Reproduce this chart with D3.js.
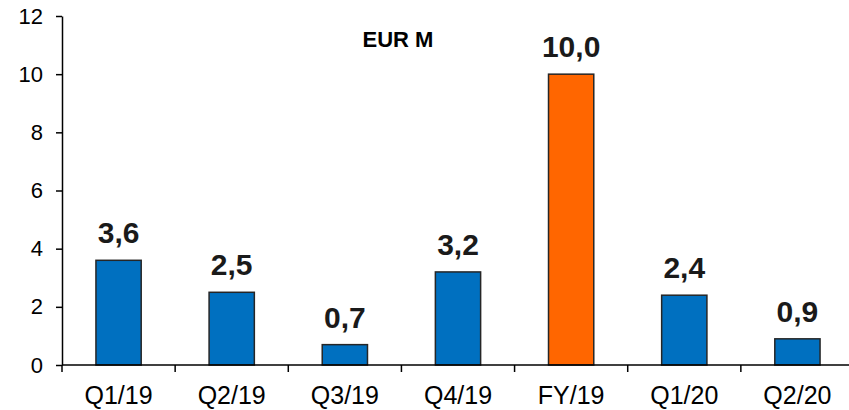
<!DOCTYPE html>
<html>
<head>
<meta charset="utf-8">
<script src="https://cdn.jsdelivr.net/npm/d3@7"></script>
<style>
  body { margin: 0; background: #fff; }
  text { font-family: "Liberation Sans", Arial, sans-serif; }
</style>
</head>
<body>
<div id="chart"></div>
<script>
// data
var categories = ["Q1/19", "Q2/19", "Q3/19", "Q4/19", "FY/19", "Q1/20", "Q2/20"];
var values = [3.6, 2.5, 0.7, 3.2, 10.0, 2.4, 0.9];
var valueLabels = ["3,6", "2,5", "0,7", "3,2", "10,0", "2,4", "0,9"];
var yTicks = [0, 2, 4, 6, 8, 10, 12];
var unitLabel = "EUR M";

var data = categories.map(function (c, i) {
    return {cat: c, value: values[i], label: valueLabels[i]};
});

var width = 849, height = 410;

var svg = d3.select("#chart")
    .append("svg")
    .attr("width", width)
    .attr("height", height);

// category slots run past the right edge in the original
var x = d3.scaleBand()
    .domain(categories)
    .range([62, 854])
    .padding(0);

var y = d3.scaleLinear()
    .domain([0, 12])
    .range([365, 16]);

var barW = x.bandwidth() * 0.4;

// Y axis
var yAxis = svg.append("g")
    .attr("transform", "translate(62,0)")
    .call(d3.axisLeft(y).tickValues(yTicks).tickSize(6).tickPadding(13).tickSizeOuter(0));
yAxis.select(".domain").attr("stroke", "#000").attr("stroke-width", 1.5);
yAxis.selectAll(".tick line").attr("stroke", "#000").attr("stroke-width", 1.5);
yAxis.selectAll("text")
    .style("font-size", "22px")
    .attr("fill", "#000");

// bars
svg.selectAll("rect.bar")
    .data(data)
    .enter()
    .append("rect")
    .attr("class", "bar")
    .attr("x", function (d) { return x(d.cat) + (x.bandwidth() - barW) / 2; })
    .attr("y", function (d) { return y(d.value); })
    .attr("width", barW)
    .attr("height", function (d) { return y(0) - y(d.value); })
    .attr("fill", function (d) { return d.cat === "FY/19" ? "#FF6600" : "#0070C0"; })
    .attr("stroke", "#262626")
    .attr("stroke-width", 1.5);

// X axis with ticks at slot boundaries
var xAxisG = svg.append("g")
    .attr("transform", "translate(0," + y(0) + ")");
xAxisG.append("line")
    .attr("x1", 62).attr("x2", width)
    .attr("stroke", "#000").attr("stroke-width", 1.5);
xAxisG.selectAll("line.tick")
    .data(categories)
    .enter()
    .append("line")
    .attr("class", "tick")
    .attr("x1", function (d) { return x(d); })
    .attr("x2", function (d) { return x(d); })
    .attr("y1", 0).attr("y2", 7)
    .attr("stroke", "#000").attr("stroke-width", 1.5);
xAxisG.selectAll("text")
    .data(categories)
    .enter()
    .append("text")
    .attr("x", function (d) { return x(d) + x.bandwidth() / 2; })
    .attr("y", 39)
    .attr("text-anchor", "middle")
    .style("font-size", "25px")
    .attr("fill", "#000")
    .text(function (d) { return d; });

// value labels
svg.selectAll("text.val")
    .data(data)
    .enter()
    .append("text")
    .attr("class", "val")
    .attr("x", function (d) { return x(d.cat) + x.bandwidth() / 2; })
    .attr("y", function (d) { return y(d.value) - 17; })
    .attr("text-anchor", "middle")
    .style("font-size", "30px")
    .style("font-weight", "bold")
    .attr("fill", "#1a1a1a")
    .text(function (d) { return d.label; });

// unit label
svg.append("text")
    .attr("x", 398)
    .attr("y", 47)
    .attr("text-anchor", "middle")
    .style("font-size", "22px")
    .style("font-weight", "bold")
    .attr("fill", "#000")
    .text(unitLabel);
</script>
</body>
</html>
